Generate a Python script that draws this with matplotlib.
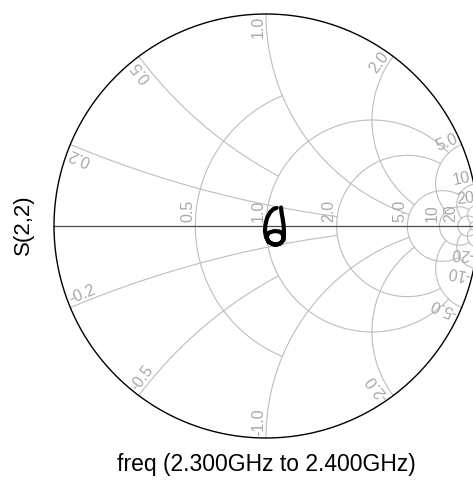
import numpy as np
import matplotlib
matplotlib.use("Agg")
import matplotlib.pyplot as plt

plt.rcParams['font.family'] = ['Liberation Sans', 'DejaVu Sans']

# ---- data: S(2,2) trace (reflection coefficient, real / imag) ----
s22_re = [0.050, 0.035, 0.019, 0.005, -0.003, -0.005, 0.000, 0.012, 0.031, 0.052,
          0.071, 0.083, 0.080, 0.064, 0.038, 0.014, 0.002, 0.012, 0.038, 0.064,
          0.080, 0.085, 0.083, 0.078, 0.073, 0.071]
s22_im = [0.085, 0.080, 0.064, 0.038, 0.005, -0.024, -0.052, -0.073, -0.085, -0.087,
          -0.080, -0.064, -0.040, -0.026, -0.024, -0.031, -0.052, -0.076, -0.088, -0.085,
          -0.068, -0.033, 0.005, 0.038, 0.066, 0.087]

# ---- Smith grid definition ----
resist_vals = [0.5, 1.0, 2.0, 5.0, 10.0, 20.0, 50.0]
resist_xmax = [1.0, 5.0, 5.0, 10.0, 20.0, 50.0, None]
resist_labels = ['0.5', '1.0', '2.0', '5.0', '10', '20', '']
react_vals = [0.2, 0.5, 1.0, 2.0, 5.0, 10.0, 20.0]
react_rmax = [2.0, 1.0, 5.0, 5.0, 10.0, 20.0, 50.0]
react_labels = ['0.2', '0.5', '1.0', '2.0', '5.0', '10', '20']

xlabel_text = 'freq (2.300GHz to 2.400GHz)'
ylabel_text = 'S(2,2)'

W, H = 473, 484
fig = plt.figure(figsize=(W / 100, H / 100), dpi=100)
cx, cy, R = 266.0, 226.0, 212.0
lim = 1.1
ax = fig.add_axes([(cx - lim * R) / W, (H - (cy + lim * R)) / H,
                   2 * lim * R / W, 2 * lim * R / H])
ax.set_xlim(-lim, lim)
ax.set_ylim(-lim, lim)
ax.axis('off')

px = 1.0 / R  # one pixel in data units
grid_c = '#bdbdbd'
text_c = '#a9a9a9'
glw = 0.8


def gamma(z):
    return (z - 1) / (z + 1)


# resistance circles
for r, xm, lab in zip(resist_vals, resist_xmax, resist_labels):
    if xm is None:
        t = np.linspace(0, 2 * np.pi, 800)
        c = r / (r + 1)
        rad = 1 / (r + 1)
        gx, gy = c + rad * np.cos(t), rad * np.sin(t)
    else:
        xs = np.concatenate([-np.geomspace(xm, 1e-3, 400), [0], np.geomspace(1e-3, xm, 400)])
        g = gamma(r + 1j * xs)
        gx, gy = g.real, g.imag
    ax.plot(gx, gy, color=grid_c, lw=glw, zorder=1)
    if lab:
        x0 = (r - 1) / (r + 1)
        ax.text(x0 - 3 * px, 4 * px, lab, rotation=90, rotation_mode='anchor',
                ha='left', va='baseline', fontsize=11.5, color=text_c, zorder=2)

# reactance arcs
for xv, rm, lab in zip(react_vals, react_rmax, react_labels):
    rs = np.concatenate([[0], np.geomspace(1e-3, rm, 600)])
    for sgn in (1, -1):
        g = gamma(rs + 1j * sgn * xv)
        ax.plot(g.real, g.imag, color=grid_c, lw=glw, zorder=1)
        g0 = gamma(1j * sgn * xv)
        th = np.angle(g0)
        if sgn > 0:
            d = np.array([np.cos(th), np.sin(th)])
            n = np.array([-d[1], d[0]])
            p = 0.99 * d + 3 * px * n
            ax.text(p[0], p[1], lab, rotation=np.degrees(th), rotation_mode='anchor',
                    ha='right', va='baseline', fontsize=11.5, color=text_c, zorder=2)
        else:
            d = -np.array([np.cos(th), np.sin(th)])
            n = np.array([-d[1], d[0]])
            p = -0.99 * d + 3 * px * n
            ax.text(p[0], p[1], '-' + lab, rotation=np.degrees(th) + 180,
                    rotation_mode='anchor', ha='left', va='baseline',
                    fontsize=11.5, color=text_c, zorder=2)

# real axis and outer circle
ax.plot([-1, 1], [0, 0], color='#4a4a4a', lw=0.9, zorder=3)
t = np.linspace(0, 2 * np.pi, 1000)
ax.plot(np.cos(t), np.sin(t), color='black', lw=1.0, zorder=3)

# trace
ax.plot(s22_re, s22_im, color='black', lw=3.0, solid_capstyle='round',
        solid_joinstyle='round', zorder=5)

fig.text(23 / W, 1 - 225 / H, ylabel_text, rotation=90, ha='center', va='center',
         fontsize=16)
fig.text(266 / W, 1 - 465 / H, xlabel_text, ha='center', va='center', fontsize=16.5)

fig.savefig('out.png', dpi=100)
